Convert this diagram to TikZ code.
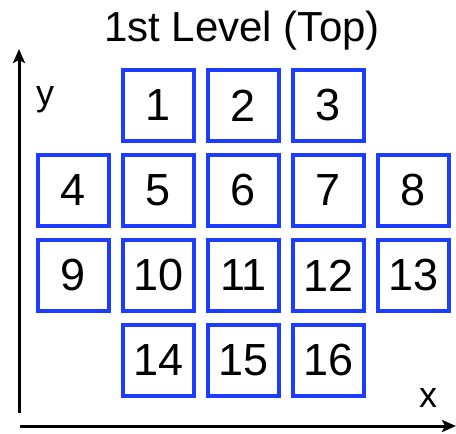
\documentclass[tikz,border=0pt]{standalone}
\usepackage{fontspec}
\setmainfont{Liberation Sans}
\usetikzlibrary{arrows.meta}
\definecolor{boxblue}{RGB}{28,60,255}
\tikzset{
  cell/.style={draw=boxblue, line width=4pt, minimum size=71pt, inner sep=0pt, font=\fontsize{45}{45}\selectfont},
  axis/.style={line width=3pt, -{Stealth[length=14pt,width=12pt,inset=3pt]}},
  axlabel/.style={font=\fontsize{36}{36}\selectfont, inner sep=0pt}
}
\begin{document}
\begin{tikzpicture}[x=1pt,y=-1pt]
\useasboundingbox (0,0) rectangle (456,434);
\node[font=\fontsize{42}{42}\selectfont, inner sep=0pt] (title) at (242,31) {1st Level (Top)};
% row 1
\node[cell] (c1) at (158.5,105.5) {1};
\node[cell] (c2) at (243.5,105.5) {2};
\node[cell] (c3) at (328.5,105.5) {3};
% row 2
\node[cell] (c4) at (73.5,190.5) {4};
\node[cell] (c5) at (158.5,190.5) {5};
\node[cell] (c6) at (243.5,190.5) {6};
\node[cell] (c7) at (328.5,190.5) {7};
\node[cell] (c8) at (413.5,190.5) {8};
% row 3
\node[cell] (c9) at (73.5,275.5) {9};
\node[cell] (c10) at (158.5,275.5) {10};
\node[cell] (c11) at (243.5,275.5) {11};
\node[cell] (c12) at (328.5,275.5) {12};
\node[cell] (c13) at (413.5,275.5) {13};
% row 4
\node[cell] (c14) at (158.5,360.5) {14};
\node[cell] (c15) at (243.5,360.5) {15};
\node[cell] (c16) at (328.5,360.5) {16};
% axes
\coordinate (yb) at (19,413);
\coordinate (yt) at (19,49);
\coordinate (xl) at (20,426);
\coordinate (xr) at (456,426);
\draw[axis] (yb) -- (yt);
\draw[axis] (xl) -- (xr);
\node[axlabel] (ylab) at (45,100) {y};
\node[axlabel] (xlab) at (428,398) {x};
\end{tikzpicture}
\end{document}
